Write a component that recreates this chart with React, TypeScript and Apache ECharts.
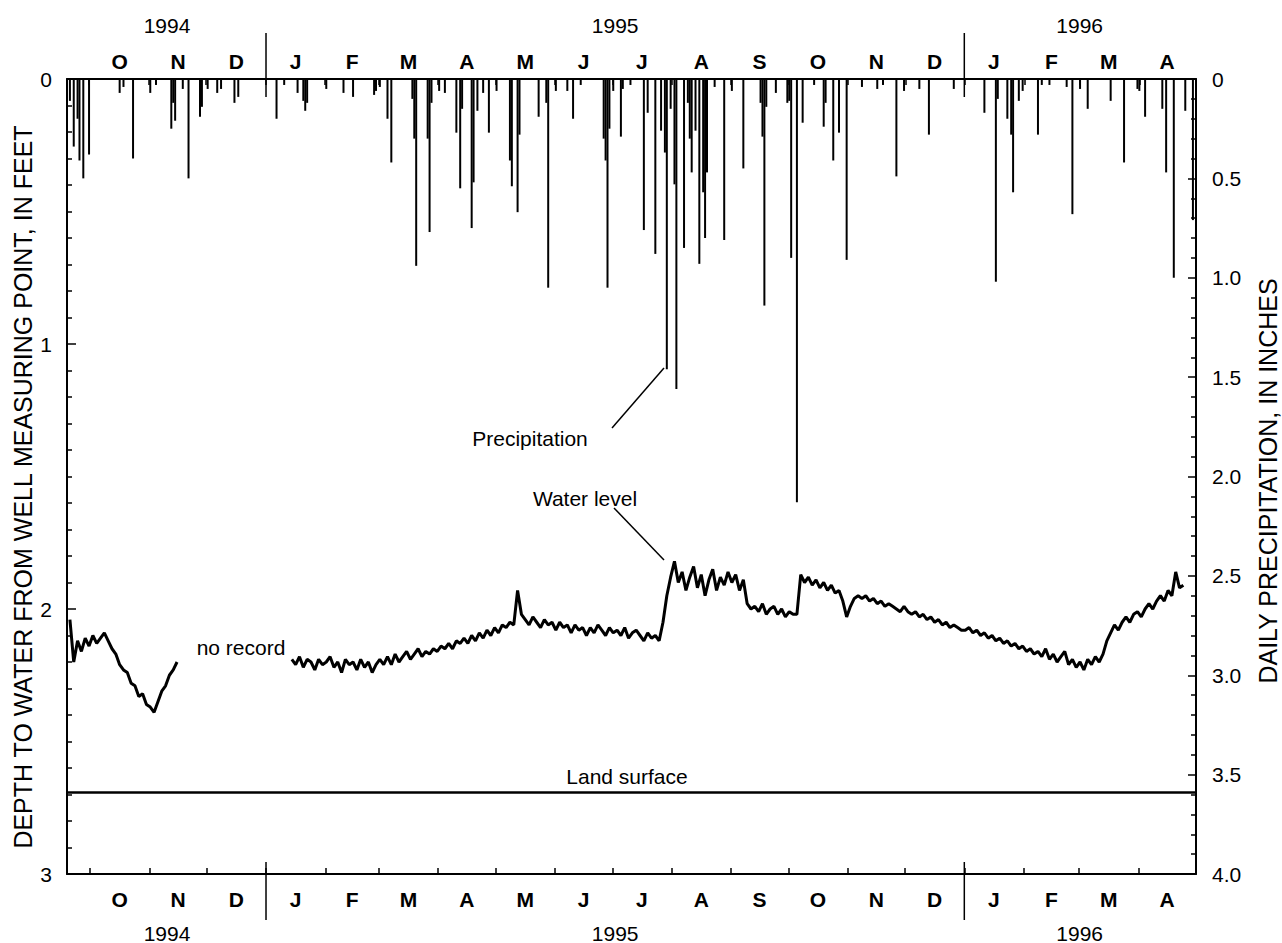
import React, { useEffect, useRef } from 'react';
import * as echarts from 'echarts';

const FONT = '"Liberation Sans", Arial, Helvetica, sans-serif';
const DAY = 86400000;

// Daily precipitation, inches (date, value)
const precipDates = [
  '1994-09-20','1994-09-22','1994-09-24','1994-09-25','1994-09-27','1994-09-30','1994-10-16','1994-10-18','1994-10-23',
  '1994-11-01','1994-11-04','1994-11-12','1994-11-13','1994-11-14','1994-11-18','1994-11-21','1994-11-27','1994-11-28',
  '1994-12-01','1994-12-06','1994-12-08','1994-12-15','1994-12-17',
  '1995-01-06','1995-01-10','1995-01-17','1995-01-20','1995-01-21','1995-01-22','1995-02-01','1995-02-10','1995-02-15',
  '1995-02-26','1995-02-27','1995-03-01','1995-03-05','1995-03-07','1995-03-18','1995-03-19','1995-03-20','1995-03-26',
  '1995-03-27','1995-03-28','1995-04-01','1995-04-04','1995-04-10','1995-04-12','1995-04-13','1995-04-18','1995-04-19',
  '1995-04-21','1995-04-24','1995-04-27','1995-05-01','1995-05-08','1995-05-09','1995-05-12','1995-05-13','1995-05-23',
  '1995-05-27','1995-05-28','1995-06-01','1995-06-07','1995-06-10','1995-06-14','1995-06-26','1995-06-27','1995-06-28',
  '1995-06-29','1995-07-01','1995-07-05','1995-07-06','1995-07-10','1995-07-17','1995-07-19','1995-07-23','1995-07-26',
  '1995-07-28','1995-07-29','1995-07-31','1995-08-02','1995-08-03','1995-08-07','1995-08-09','1995-08-10','1995-08-11',
  '1995-08-13','1995-08-15','1995-08-17','1995-08-18','1995-08-19','1995-08-23','1995-08-28','1995-09-01','1995-09-07',
  '1995-09-16','1995-09-17','1995-09-18','1995-09-19','1995-09-24','1995-09-30','1995-10-01','1995-10-02','1995-10-05',
  '1995-10-08','1995-10-14','1995-10-19','1995-10-20','1995-10-24','1995-10-27','1995-10-31','1995-11-08','1995-11-16',
  '1995-11-19','1995-11-26','1995-11-30','1995-12-08','1995-12-13','1995-12-26',
  '1996-01-11','1996-01-17','1996-01-18','1996-01-23','1996-01-25','1996-01-26','1996-01-29','1996-01-31','1996-02-08',
  '1996-02-10','1996-02-14','1996-02-23','1996-02-26','1996-03-01','1996-03-05','1996-03-17','1996-03-24','1996-03-31',
  '1996-04-01','1996-04-04','1996-04-13','1996-04-15','1996-04-19','1996-04-25','1996-04-29'
];
const precipInches = [
  0.11,0.34,0.20,0.41,0.50,0.38,0.07,0.04,0.40,
  0.07,0.03,0.25,0.12,0.21,0.05,0.50,0.19,0.14,
  0.05,0.07,0.05,0.12,0.09,
  0.20,0.03,0.07,0.11,0.16,0.12,0.05,0.07,0.09,
  0.08,0.06,0.04,0.20,0.42,0.10,0.30,0.94,0.30,
  0.77,0.12,0.06,0.07,0.27,0.55,0.15,0.75,0.52,
  0.16,0.07,0.27,0.06,0.41,0.54,0.67,0.28,0.19,
  0.12,1.05,0.06,0.06,0.20,0.03,0.30,0.41,1.05,
  0.25,0.06,0.29,0.05,0.03,0.76,0.17,0.88,0.26,
  0.37,1.46,0.15,0.53,1.56,0.85,0.12,0.30,0.47,
  0.26,0.93,0.57,0.80,0.47,0.04,0.81,0.06,0.45,
  0.12,0.29,1.14,0.14,0.07,0.12,0.11,0.90,2.13,
  0.22,0.03,0.24,0.12,0.41,0.27,0.91,0.04,0.05,
  0.03,0.49,0.06,0.05,0.28,0.05,
  0.17,1.02,0.10,0.20,0.28,0.57,0.11,0.06,0.28,
  0.03,0.03,0.04,0.68,0.05,0.15,0.11,0.42,0.05,
  0.06,0.19,0.15,0.47,1.00,0.16,0.71
];

// Water level depth below measuring point, feet
const wl1Start = [1994, 8, 20];
const wl1StepDays = 2;
const wl1Depth = [
  2.04,2.20,2.12,2.16,2.11,2.14,2.10,2.13,2.11,2.09,2.12,2.15,2.17,2.21,2.23,
  2.24,2.28,2.29,2.33,2.32,2.36,2.37,2.39,2.35,2.31,2.29,2.25,2.23,2.20
];
const wl2Start = [1995, 0, 14];
const wl2StepDays = 2;
const wl2Depth = [
  // Jan 14 - Mar 3, 1995
  2.19,2.21,2.18,2.22,2.19,2.20,2.23,2.19,2.21,2.20,2.18,2.22,2.20,2.24,2.19,2.21,2.20,2.23,2.19,2.22,2.20,2.24,2.21,2.19,2.21,
  // Mar 5 - Mar 29
  2.18,2.21,2.17,2.20,2.18,2.16,2.19,2.17,2.15,2.18,2.16,2.17,2.15,
  // Mar 31 - Apr 28
  2.16,2.14,2.15,2.13,2.15,2.12,2.13,2.11,2.13,2.10,2.12,2.09,2.11,2.08,2.10,
  // Apr 30 - May 14
  2.07,2.09,2.06,2.07,2.05,2.06,1.93,2.02,
  // May 16 - Jul 1
  2.04,2.06,2.03,2.05,2.07,2.04,2.06,2.05,2.08,2.05,2.07,2.06,2.09,2.06,2.08,2.07,2.10,2.07,2.09,2.06,2.08,2.10,2.07,2.09,
  // Jul 3 - Jul 31
  2.08,2.10,2.07,2.11,2.09,2.08,2.10,2.12,2.09,2.11,2.10,2.12,2.05,1.95,1.88,
  // Aug 2 - Sep 11
  1.82,1.90,1.86,1.93,1.88,1.84,1.92,1.87,1.95,1.89,1.85,1.93,1.88,1.91,1.86,1.90,1.87,1.93,1.89,1.98,2.00,
  // Sep 13 - Oct 7
  1.99,2.01,1.98,2.02,2.00,1.99,2.02,2.00,2.03,2.01,2.02,2.02,1.87,
  // Oct 9 - Nov 6
  1.90,1.88,1.91,1.89,1.92,1.90,1.93,1.91,1.94,1.93,1.97,2.03,1.99,1.96,1.95,
  // Nov 8 - Dec 30
  1.96,1.95,1.97,1.96,1.98,1.97,1.99,1.98,1.99,2.00,2.01,1.99,2.01,2.02,2.01,2.03,2.02,2.04,2.03,2.05,2.04,2.06,2.05,2.07,2.06,2.07,2.08,
  // Jan 1 - Feb 28, 1996
  2.08,2.07,2.09,2.08,2.10,2.09,2.11,2.10,2.12,2.11,2.13,2.12,2.14,2.13,2.15,2.14,2.16,2.15,2.17,2.16,2.18,2.15,2.19,2.17,2.20,2.18,2.16,2.21,2.19,2.22,
  // Mar 1 - Mar 29
  2.20,2.23,2.19,2.21,2.18,2.20,2.17,2.12,2.09,2.06,2.08,2.05,2.03,2.05,2.02,
  // Mar 31 - Apr 24
  2.01,2.03,2.00,1.98,2.00,1.97,1.95,1.97,1.93,1.95,1.86,1.92,1.91
];
const LAND_SURFACE_FT = 2.69;

const monthLetters = ['J','F','M','A','M','J','J','A','S','O','N','D'];
const years = [1994, 1995, 1996];
const depthRange = [0, 3];
const precipRange = [0, 4];

export default function App() {
  const ref = useRef<HTMLDivElement>(null);
  useEffect(() => {
    document.body.style.margin = '0';
    const chart = echarts.init(ref.current!, null, { renderer: 'svg' });
    const xMin = new Date(1994, 8, 19, 12).getTime();
    const xMax = new Date(1996, 3, 30, 14).getTime();

    const bars = precipDates.map((d, i) => {
      const [y, m, dd] = d.split('-').map(Number);
      return [new Date(y, m - 1, dd, 12).getTime(), precipInches[i]];
    });
    const wl: any[] = [];
    wl1Depth.forEach((v, i) => wl.push([new Date(wl1Start[0], wl1Start[1], wl1Start[2] + i * wl1StepDays, 12).getTime(), v]));
    wl.push([new Date(1994, 11, 15).getTime(), '-']);
    wl2Depth.forEach((v, i) => wl.push([new Date(wl2Start[0], wl2Start[1], wl2Start[2] + i * wl2StepDays, 12).getTime(), v]));

    const xAxisBase = (pos: 'top' | 'bottom') => ({
      type: 'time',
      position: pos,
      min: xMin,
      max: xMax,
      minInterval: 28 * DAY,
      maxInterval: 31 * DAY,
      axisLine: { show: true, onZero: false, lineStyle: { color: '#000', width: 2 } },
      axisTick: { show: true, inside: true, length: 6, lineStyle: { color: '#000', width: 1.5 } },
      axisLabel: { show: false },
      splitLine: { show: false },
    });

    const textStyleCommon = { color: '#000', fontFamily: FONT, fontSize: 21 };

    chart.setOption({
      animation: false,
      backgroundColor: '#fff',
      grid: { left: 67, right: 86, top: 79, bottom: 69, containLabel: false },
      xAxis: [xAxisBase('bottom'), xAxisBase('top')],
      yAxis: [
        {
          type: 'value', position: 'left', inverse: true,
          min: depthRange[0], max: depthRange[1], interval: 1,
          axisLine: { show: true, lineStyle: { color: '#000', width: 2 } },
          axisTick: { show: true, inside: true, length: 9, lineStyle: { color: '#000', width: 1.5 } },
          minorTick: { show: true, splitNumber: 10, length: 5, lineStyle: { color: '#000', width: 1.5 } },
          axisLabel: { ...textStyleCommon, margin: 15 },
          splitLine: { show: false },
        },
        {
          type: 'value', position: 'right', inverse: true,
          min: precipRange[0], max: precipRange[1], interval: 0.5,
          axisLine: { show: true, lineStyle: { color: '#000', width: 2 } },
          axisTick: { show: true, inside: true, length: 8, lineStyle: { color: '#000', width: 1.5 } },
          minorTick: { show: true, splitNumber: 5, length: 5, lineStyle: { color: '#000', width: 1.5 } },
          axisLabel: { ...textStyleCommon, margin: 16, formatter: (v: number) => (v === 0 ? '0' : v.toFixed(1)) },
          splitLine: { show: false },
        },
      ],
      series: [
        {
          name: 'Precipitation', type: 'bar', xAxisIndex: 0, yAxisIndex: 1,
          data: bars, barWidth: 2, itemStyle: { color: '#000' },
        },
        {
          name: 'Water level', type: 'line', xAxisIndex: 0, yAxisIndex: 0,
          data: wl, showSymbol: false, connectNulls: false,
          lineStyle: { color: '#000', width: 3 },
          markLine: {
            silent: true, symbol: ['none', 'none'], label: { show: false },
            lineStyle: { color: '#000', width: 2.5, type: 'solid' },
            data: [{ yAxis: LAND_SURFACE_FT }],
          },
        },
      ],
    });

    const px = (t: number) => chart.convertToPixel({ xAxisIndex: 0 }, t) as number;
    const g: any[] = [];
    const txt = (text: string, x: number, y: number, opts: any = {}) => ({
      type: 'text', x, y, rotation: opts.rotation || 0,
      style: {
        text, fill: '#000', font: `${opts.bold ? 'bold ' : ''}${opts.size || 21}px ${FONT}`,
        textAlign: 'center', textVerticalAlign: 'middle', align: 'center', verticalAlign: 'middle',
      },
    });
    // month labels
    for (let k = 0; k < 19; k++) {
      const y = 1994 + Math.floor((9 + k) / 12);
      const m = (9 + k) % 12;
      const s = new Date(y, m, 1).getTime();
      const e = new Date(y, m + 1, 1).getTime();
      const x = px((s + e) / 2);
      g.push(txt(monthLetters[m], x, 61, { bold: true }));
      g.push(txt(monthLetters[m], x, 899, { bold: true }));
    }
    // year labels and year dividers
    years.forEach((yr) => {
      const s = Math.max(xMin, new Date(yr, 0, 1).getTime());
      const e = Math.min(xMax, new Date(yr + 1, 0, 1).getTime());
      const x = px((s + e) / 2);
      g.push(txt(String(yr), x, 25));
      g.push(txt(String(yr), x, 933));
      const jan = new Date(yr, 0, 1).getTime();
      if (jan > xMin) {
        const xl = px(jan);
        g.push({ type: 'line', shape: { x1: xl, y1: 33, x2: xl, y2: 97 }, style: { stroke: '#000', lineWidth: 1.5 } });
        g.push({ type: 'line', shape: { x1: xl, y1: 862, x2: xl, y2: 920 }, style: { stroke: '#000', lineWidth: 1.5 } });
      }
    });
    // axis titles
    g.push(txt('DEPTH TO WATER FROM WELL MEASURING POINT, IN FEET', 23, 487, { rotation: Math.PI / 2, size: 25 }));
    g.push(txt('DAILY PRECIPITATION, IN INCHES', 1268, 481, { rotation: Math.PI / 2, size: 25 }));
    // annotations
    g.push(txt('Precipitation', 530, 438));
    g.push({ type: 'line', shape: { x1: 612, y1: 428, x2: 664, y2: 368 }, style: { stroke: '#000', lineWidth: 1.5 } });
    g.push(txt('Water level', 585, 498));
    g.push({ type: 'line', shape: { x1: 614, y1: 508, x2: 664, y2: 560 }, style: { stroke: '#000', lineWidth: 1.5 } });
    g.push(txt('no record', 241, 647));
    g.push(txt('Land surface', 627, 776));

    chart.setOption({ graphic: g });
    return () => chart.dispose();
  }, []);
  return <div ref={ref} style={{ width: 1282, height: 943 }} />;
}
